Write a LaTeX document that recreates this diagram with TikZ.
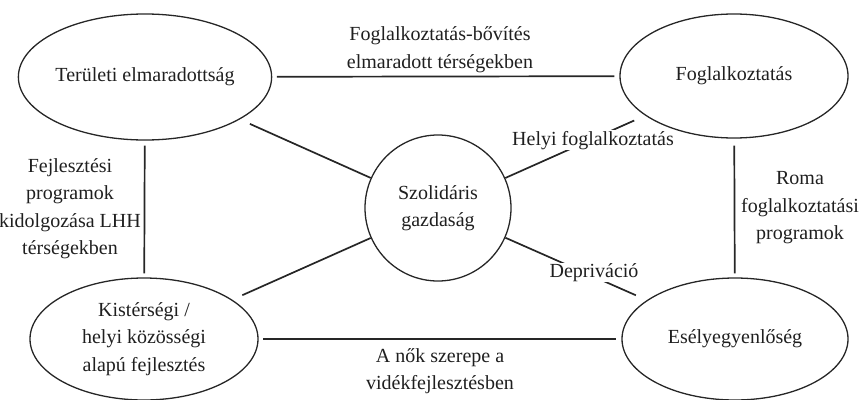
\documentclass[tikz,border=0pt]{standalone}
\usepackage{fontspec}
\setmainfont{Liberation Serif}
\usetikzlibrary{shapes.geometric}
\begin{document}
\begin{tikzpicture}[x=1pt,y=-1pt,
  every node/.style={font=\fontsize{20}{27.5}\selectfont, text=black!88},
  bubble/.style={draw=black!85, line width=1.3pt, ellipse, inner sep=0pt, align=center},
  hub/.style={draw=black!85, line width=1.3pt, circle, inner sep=0pt, minimum size=146pt, align=center},
  link/.style={draw=black!85, line width=1.7pt},
  lab/.style={align=center, inner sep=0pt},
  masklab/.style={fill=white, inner sep=0.5pt}
]
\useasboundingbox (0,0) rectangle (859,399);

\node[bubble, minimum width=228pt, minimum height=126pt] (tl) at (145,77) {Területi elmaradottság};
\node[bubble, minimum width=228pt, minimum height=124pt] (tr) at (734,76) {Foglalkoztatás};
\node[bubble, minimum width=228pt, minimum height=122pt] (bl) at (144,339) {Kistérségi /\\helyi közösségi\\alapú fejlesztés};
\node[bubble, minimum width=226pt, minimum height=122pt] (br) at (735,339) {Esélyegyenlőség};
\node[hub] (c) at (438,208) {Szolidáris\\gazdaság};

\draw[link, shorten <=4.5pt, shorten >=5pt] (tl) -- (tr);
\draw[link, shorten <=4.5pt, shorten >=5pt] (bl) -- (br);
\draw[link, shorten <=5pt, shorten >=4pt] (tl) -- (bl);
\draw[link, shorten <=7pt, shorten >=4pt] (tr) -- (br);
\draw[link, shorten <=11pt] (tl) -- (c);
\draw[link, shorten <=11pt] (bl) -- (c);
\draw[link, shorten >=12pt] (c) -- (tr);
\draw[link, shorten >=12pt] (c) -- (br);

\node[lab] (l1) at (440,49.5) {Foglalkoztatás-bővítés\\elmaradott térségekben};
\node[lab] (l2) at (440,371) {A nők szerepe a\\vidékfejlesztésben};
\node[lab] (l3) at (70,208.5) {Fejlesztési\\programok\\kidolgozása LHH\\térségekben};
\node[lab] (l4) at (800,208) {Roma\\foglalkoztatási\\programok};
\node[masklab, anchor=base] (l5) at (593,145) {Helyi foglalkoztatás};
\node[masklab, anchor=base] (l6) at (594,277) {Depriváció};
\end{tikzpicture}
\end{document}
